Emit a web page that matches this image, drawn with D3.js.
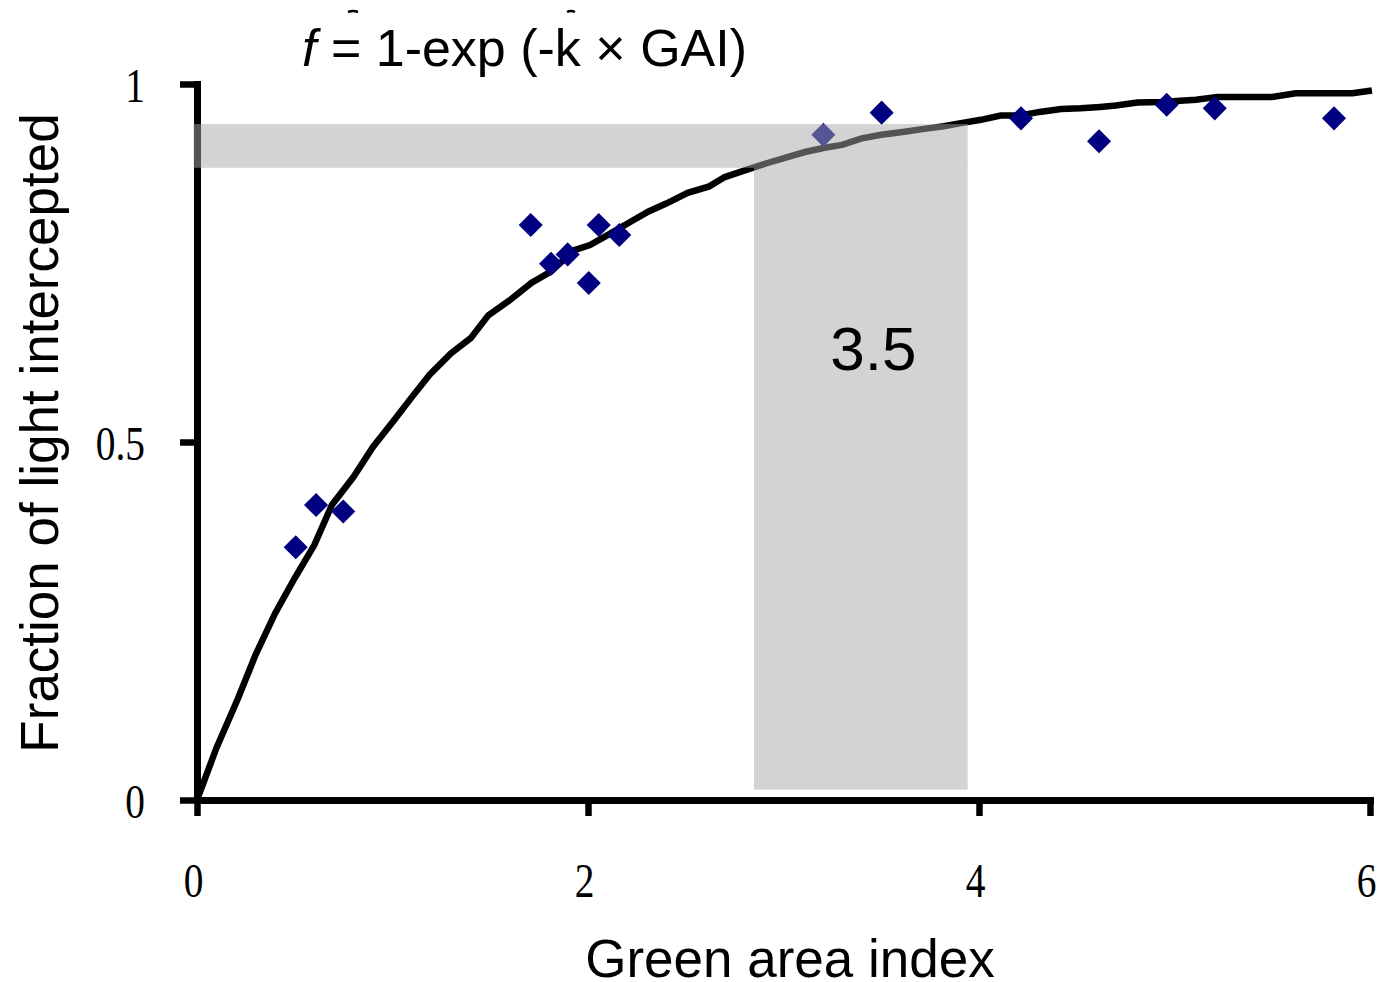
<!DOCTYPE html>
<html>
  <head>
    <title>Light interception</title>
    <script src="https://cdn.jsdelivr.net/npm/d3@7"></script>
    <style>
      body { margin: 0; background: #fff; }
    </style>
  </head>
  <body>
    <svg width="1378" height="982" id="mainsvg"></svg>
    <script>
      // measured points (GAI, fraction intercepted)
      const pointGAI  = [0.505, 0.609, 0.748, 1.707, 1.811, 1.896, 2.004, 2.055, 2.160, 3.204, 3.502, 4.215, 4.614, 4.960, 5.206, 5.816];
      const pointFrac = [0.353, 0.412, 0.403, 0.803, 0.749, 0.762, 0.722, 0.803, 0.789, 0.929, 0.960, 0.952, 0.920, 0.971, 0.966, 0.952];

      // fitted curve
      const curveGAI  = [0, 0.10, 0.21, 0.30, 0.40, 0.50, 0.60, 0.69, 0.80, 0.90, 1.01, 1.10, 1.19, 1.30, 1.40, 1.49, 1.60, 1.71, 1.81, 1.93, 2.01, 2.10, 2.22, 2.31, 2.40, 2.51, 2.62, 2.70, 2.81, 2.91, 3.02, 3.11, 3.21, 3.30, 3.40, 3.50, 3.61, 3.71, 3.82, 3.90, 4.01, 4.11, 4.21, 4.31, 4.42, 4.52, 4.62, 4.70, 4.81, 4.93, 5.11, 5.22, 5.50, 5.62, 5.91, 6.01];
      const curveFrac = [0, 0.073, 0.142, 0.203, 0.261, 0.310, 0.356, 0.412, 0.451, 0.493, 0.531, 0.563, 0.594, 0.624, 0.645, 0.677, 0.698, 0.722, 0.738, 0.768, 0.775, 0.789, 0.808, 0.822, 0.833, 0.848, 0.857, 0.870, 0.880, 0.889, 0.898, 0.905, 0.911, 0.915, 0.924, 0.929, 0.933, 0.937, 0.941, 0.945, 0.950, 0.956, 0.956, 0.961, 0.965, 0.966, 0.968, 0.970, 0.974, 0.975, 0.978, 0.982, 0.982, 0.987, 0.987, 0.991];

      // shaded bands: GAI range and fraction range of the optimum
      const bandGAI  = [2.849, 3.942];
      const bandFrac = [0.883, 0.944];
      const bandFloor = 0.0144;
      const bandLabel = '3.5';
      const bandLabelPos = [3.46, 0.60];

      const xTicks = [0, 2, 4, 6];
      const yTicks = [0, 0.5, 1];
      const yTickLabels = ['0', '0.5', '1'];

      const svg = d3.select('#mainsvg');
      const width = +svg.attr('width');
      const height = +svg.attr('height');
      const margin = {top: 84, right: 8, bottom: 182, left: 197};
      const innerWidth = width - margin.left - margin.right;
      const innerHeight = height - margin.top - margin.bottom;
      const g = svg.append('g').attr('id', 'maingroup')
        .attr('transform', `translate(${margin.left}, ${margin.top})`);

      const xScale = d3.scaleLinear().domain([0, 6]).range([0, innerWidth]);
      const yScale = d3.scaleLinear().domain([0, 1]).range([innerHeight, 0]);
      const serif = '"Liberation Serif", "Times New Roman", serif';
      const sans = '"Liberation Sans", Arial, sans-serif';

      // axes
      const xAxis = d3.axisBottom(xScale).tickValues(xTicks).tickSize(16).tickSizeOuter(0).tickFormat(d3.format('d'));
      const yAxis = d3.axisLeft(yScale).tickValues(yTicks).tickSize(17).tickSizeOuter(0)
        .tickFormat((d, i) => yTickLabels[i]);

      const xg = g.append('g').attr('transform', `translate(0, ${innerHeight})`).call(xAxis);
      const yg = g.append('g').call(yAxis);
      [xg, yg].forEach(ax => {
        ax.select('.domain').attr('stroke', '#000').attr('stroke-width', 7).attr('stroke-linecap', 'square');
        ax.selectAll('.tick line').attr('stroke', '#000').attr('stroke-width', 6.5);
        ax.selectAll('.tick text')
          .attr('fill', '#000')
          .style('font-family', serif)
          .style('font-size', '48px');
      });
      xg.selectAll('.tick text').attr('x', -4).attr('y', 97).attr('dy', 0);
      yg.selectAll('.tick text').attr('x', -52).attr('dy', 17).attr('text-anchor', 'end');
      // the tick labels are a narrow serif: squeeze them horizontally
      g.selectAll('.tick text').each(function() {
        const w = this.getComputedTextLength();
        d3.select(this).attr('textLength', w * 0.82).attr('lengthAdjust', 'spacingAndGlyphs');
      });

      // curve
      const line = d3.line().x(d => xScale(d[0])).y(d => yScale(d[1]));
      g.append('path')
        .datum(curveGAI.map((x, i) => [x, curveFrac[i]]))
        .attr('d', line)
        .attr('fill', 'none')
        .attr('stroke', '#000')
        .attr('stroke-width', 6.5);

      // points
      const diamond = d3.symbol().type(d3.symbolSquare).size(290);
      g.selectAll('.pt').data(pointGAI.map((x, i) => [x, pointFrac[i]])).join('path')
        .attr('class', 'pt')
        .attr('d', diamond)
        .attr('transform', d => `translate(${xScale(d[0])}, ${yScale(d[1])}) rotate(45)`)
        .attr('fill', '#000080');

      // shaded bands on top
      const bandFill = 'rgb(170,168,170)';
      g.append('rect')
        .attr('x', xScale(0) - 3.5)
        .attr('y', yScale(bandFrac[1]))
        .attr('width', xScale(bandGAI[1]) - xScale(0) + 3.5)
        .attr('height', yScale(bandFrac[0]) - yScale(bandFrac[1]))
        .attr('fill', bandFill).attr('fill-opacity', 0.5);
      g.append('rect')
        .attr('x', xScale(bandGAI[0]))
        .attr('y', yScale(bandFrac[0]))
        .attr('width', xScale(bandGAI[1]) - xScale(bandGAI[0]))
        .attr('height', yScale(bandFloor) - yScale(bandFrac[0]))
        .attr('fill', bandFill).attr('fill-opacity', 0.5);

      g.append('text')
        .attr('x', xScale(bandLabelPos[0]))
        .attr('y', yScale(bandLabelPos[1]))
        .attr('text-anchor', 'middle')
        .style('font-family', sans)
        .style('font-size', '62px')
        .attr('fill', '#000')
        .text(bandLabel);

      // axis titles
      svg.append('text')
        .attr('transform', `translate(58, ${margin.top + innerHeight / 2 - 9}) rotate(-90)`)
        .attr('text-anchor', 'middle')
        .style('font-family', sans)
        .style('font-size', '53px')
        .text('Fraction of light intercepted');
      svg.append('text')
        .attr('x', 790)
        .attr('y', 977)
        .attr('text-anchor', 'middle')
        .style('font-family', sans)
        .style('font-size', '53px')
        .text('Green area index');

      // equation
      const eq = svg.append('text')
        .attr('x', 302)
        .attr('y', 66)
        .style('font-family', sans)
        .style('font-size', '52px');
      eq.append('tspan').style('font-style', 'italic').text('f');
      eq.append('tspan').text(' = 1-exp (-k \u00d7 GAI)');

      // clipped remnants of a line above the equation
      svg.append('path').attr('d', 'M348,12 Q353,10 358,12').attr('stroke', '#000').attr('stroke-width', 2.5).attr('fill', 'none');
      svg.append('path').attr('d', 'M567,12 Q571,10 575,12').attr('stroke', '#000').attr('stroke-width', 2.5).attr('fill', 'none');
    </script>
  </body>
</html>
